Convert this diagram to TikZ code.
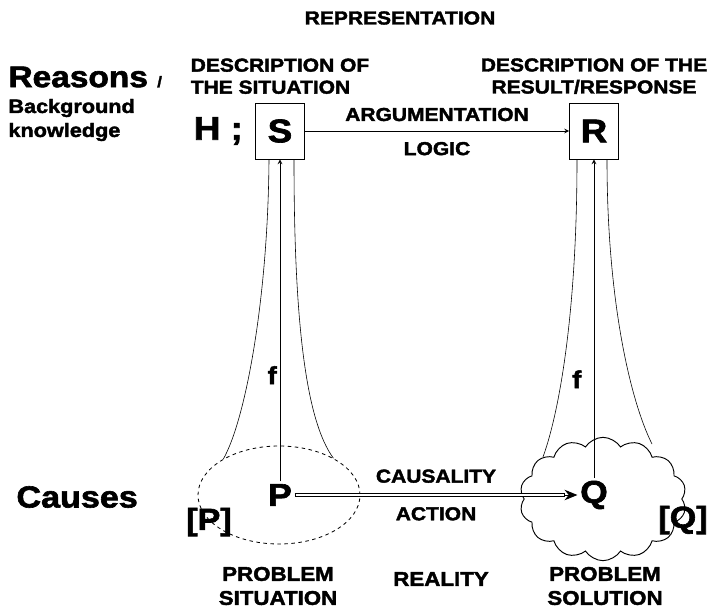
\documentclass[tikz,border=0pt]{standalone}
\usepackage{fontspec}
\setmainfont{Liberation Sans}[FakeStretch=1.12, BoldFeatures={FakeBold=2}]
\usetikzlibrary{arrows, arrows.meta, positioning, calc, shapes.geometric, shapes.symbols}

\tikzset{
  lbl/.style={font=\bfseries\fontsize{16}{18.8}\selectfont, inner sep=0pt, align=center},
  lblbot/.style={font=\bfseries\fontsize{17}{20.5}\selectfont, inner sep=0pt, align=center},
  big/.style={font=\bfseries\fontsize{25}{29}\selectfont, inner sep=2pt},
  huge/.style={font=\bfseries\fontsize{28}{32}\selectfont, inner sep=2pt},
  letterbox/.style={draw, huge, minimum width=1.47cm, minimum height=1.68cm, inner sep=0pt},
  funnel/.style={line width=0.5pt},
}

\begin{document}
\begin{tikzpicture}[>=stealth, x=0.03cm, y=-0.03cm, line width=0.8pt]
    \useasboundingbox (0,0) rectangle (715,610);
    % representation level
    \node[lbl] (rep) at (400,18) {REPRESENTATION};
    \node[letterbox] (S) at (280,131) {S};
    \node[letterbox] (R) at (594,131) {R};
    \node[huge, left=8pt of S] (H) {H ;};
    \node[lbl, align=left, above=7pt of S] (descS) {DESCRIPTION OF\\THE SITUATION};
    \node[lbl, above=7pt of R] (descR) {DESCRIPTION OF THE\\RESULT/RESPONSE};
    \draw[->] (S) -- node[lbl, above=8pt] (argu) {ARGUMENTATION}
        node[lbl, below=9pt] (logic) {LOGIC} (R);
    \node[anchor=west, font=\bfseries, inner sep=0pt] (reasons) at (8,77)
        {\fontsize{25.5}{29}\selectfont Reasons \fontsize{13}{15}\selectfont/};
    \node[anchor=west, font=\bfseries\fontsize{16.5}{20}\selectfont, inner sep=0pt] (bg) at (8,108) {Background};
    \node[anchor=west, font=\bfseries\fontsize{16.5}{20}\selectfont, inner sep=0pt] (know) at (8,132) {knowledge};

    % reality level
    \node[draw, dashed, ellipse, line width=0.7pt, minimum width=4.86cm, minimum height=2.94cm, inner sep=0pt] (Pell) at (279,495) {};
    \node[cloud, draw, cloud puffs=14, cloud puff arc=115, aspect=1.4,
        minimum width=5cm, minimum height=3.7cm, inner sep=0pt] (Qcl) at (603,499) {};
    \node[big, font=\bfseries\fontsize{27}{31}\selectfont] (P) at (280,495) {P};
    \node[big, font=\bfseries\fontsize{27}{31}\selectfont] (Q) at (594,495) {Q};
    \node[big, font=\bfseries\fontsize{26}{30}\selectfont] (Pbr) at (209,522) {[P]};
    \node[big, font=\bfseries\fontsize{26}{30}\selectfont] (Qbr) at (683,520) {[Q]};
    \node[anchor=west, big, font=\bfseries\fontsize{26}{30}\selectfont, inner sep=0pt] (causes) at (16,497) {Causes};
    % double connector P -> Q
    \coordinate (tipbase) at ($(Q.west)+(-12,0)$);
    \draw[line width=3.2pt] (P.east) -- (tipbase);
    \draw[line width=1.2pt, white] ($(P.east)+(1,0)$) -- ($(tipbase)+(-1,0)$);
    \draw[-{Stealth[length=11pt, width=9pt]}, line width=0.8pt] (tipbase) -- (Q.west);
    \path (P) -- node[lbl, above=10pt] (caus) {CAUSALITY}
        node[lbl, below=10pt] (act) {ACTION} (Q);
    \node[lblbot] (psit) at (278,586) {PROBLEM\\SITUATION};
    \node[lblbot] (real) at (441,579) {REALITY};
    \node[lblbot] (psol) at (605,586) {PROBLEM\\SOLUTION};

    % funnels
    \coordinate (sl) at ($(S.south)+(-11,0)$);
    \coordinate (sr) at ($(S.south)+(14,0)$);
    \coordinate (rl) at ($(R.south)+(-17,0)$);
    \coordinate (rr) at ($(R.south)+(13,0)$);
    \coordinate (ql) at ($(Qcl.center)+(-60,-42)$);
    \coordinate (qr) at ($(Qcl.center)+(49,-55)$);
    \draw[funnel] (sl) .. controls ($(sl)+(-1,140)$) and ($(Pell.147)+(22,-39)$) .. (Pell.147);
    \draw[funnel] (sr) .. controls ($(sr)+(0,160)$) and ($(Pell.34)+(-28,-38)$) .. (Pell.34);
    \draw[funnel] (rl) .. controls ($(rl)+(0,150)$) and ($(ql)+(17,-47)$) .. (ql);
    \draw[funnel] (rr) .. controls ($(rr)+(0,140)$) and ($(qr)+(-22,-44)$) .. (qr);
    \draw[->] (P) -- (P |- S.south) node[pos=0.33, left=-1pt, font=\bfseries\fontsize{21}{25}\selectfont] (fS) {f};
    \draw[->] (Q) -- (Q |- R.south) node[pos=0.31, left=7pt, font=\bfseries\fontsize{21}{25}\selectfont] (fR) {f};
\end{tikzpicture}
\end{document}
